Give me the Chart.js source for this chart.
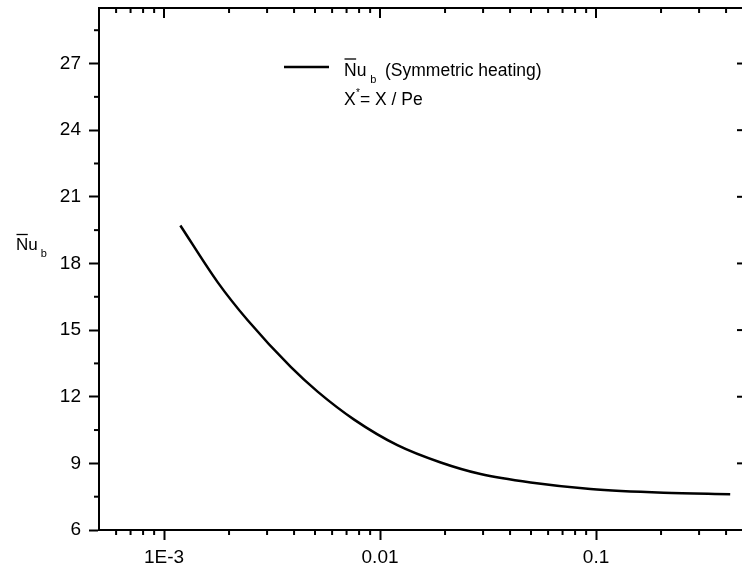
<!DOCTYPE html>
<html>
<head>
<meta charset="utf-8">
<script src="https://cdn.jsdelivr.net/npm/chart.js@4.4.1/dist/chart.umd.min.js"></script>
<style>
  html, body { margin: 0; padding: 0; background: #fff; overflow: hidden; }
  #wrap { width: 742px; height: 569px; overflow: hidden; }
</style>
</head>
<body>
<div id="wrap"><canvas id="chart" width="760" height="569"></canvas></div>
<script>
// data
const xStar = [0.00119, 0.00177, 0.00244, 0.00386, 0.00514, 0.00759, 0.01203, 0.0191, 0.0292, 0.0498, 0.0942, 0.2056, 0.418];
const nuB   = [19.71, 17.16, 15.44, 13.34, 12.23, 10.97, 9.82, 9.04, 8.52, 8.14, 7.85, 7.68, 7.61];

const xTicks = [0.001, 0.01, 0.1];
const xTickLabels = ['1E-3', '0.01', '0.1'];
const xMinorTicks = [6e-4, 7e-4, 8e-4, 9e-4, 0.002, 0.003, 0.004, 0.005, 0.006, 0.007, 0.008, 0.009,
                     0.02, 0.03, 0.04, 0.05, 0.06, 0.07, 0.08, 0.09, 0.2, 0.3, 0.4];
const yTicks = [6, 9, 12, 15, 18, 21, 24, 27];
const yMinorTicks = [7.5, 10.5, 13.5, 16.5, 19.5, 22.5, 25.5, 28.5];

const FONT = "'Liberation Sans', Arial, sans-serif";

// frame, minor ticks, legend and y title
const frame = {
  id: 'frame',
  afterDraw(chart) {
    const { ctx, chartArea: a, scales: { x, y } } = chart;
    ctx.save();
    ctx.strokeStyle = '#000';
    ctx.lineWidth = 2;
    ctx.strokeRect(a.left, a.top, a.right - a.left, a.bottom - a.top);

    const tick = (x1, y1, x2, y2) => {
      ctx.beginPath(); ctx.moveTo(x1, y1); ctx.lineTo(x2, y2); ctx.stroke();
    };
    xTicks.forEach(v => { const p = x.getPixelForValue(v); tick(p, a.top, p, a.top + 10); });
    xMinorTicks.forEach(v => {
      const p = x.getPixelForValue(v);
      tick(p, a.top, p, a.top + 5);
      tick(p, a.bottom, p, a.bottom + 5);
    });
    yTicks.forEach(v => { const p = y.getPixelForValue(v); tick(a.right, p, a.right - 10, p); });
    yMinorTicks.forEach(v => {
      const p = y.getPixelForValue(v);
      tick(a.left, p, a.left - 5, p);
      tick(a.right, p, a.right - 5, p);
    });

    // legend
    ctx.lineWidth = 2.5;
    tick(284, 67, 329, 67);
    ctx.fillStyle = '#000';
    ctx.textBaseline = 'alphabetic';
    ctx.font = '17.5px ' + FONT;
    ctx.fillText('Nu', 344, 76);
    const nW = ctx.measureText('N').width;
    const nuW = ctx.measureText('Nu').width;
    ctx.lineWidth = 1.3;
    tick(344.5, 59, 344 + nW - 0.5, 59);
    ctx.font = '11px ' + FONT;
    ctx.fillText('b', 344 + nuW + 4, 83);
    ctx.font = '17.5px ' + FONT;
    ctx.fillText('(Symmetric heating)', 385, 76);
    ctx.fillText('X', 344, 105);
    ctx.font = '10px ' + FONT;
    ctx.fillText('*', 356, 96);
    ctx.font = '17.5px ' + FONT;
    ctx.fillText('= X / Pe', 360, 105);

    // y axis title
    ctx.font = '17px ' + FONT;
    ctx.fillText('Nu', 16, 250);
    const tW = ctx.measureText('N').width;
    const tuW = ctx.measureText('Nu').width;
    tick(16.5, 234.5, 16 + tW - 0.5, 234.5);
    ctx.font = '11px ' + FONT;
    ctx.fillText('b', 16 + tuW + 3, 257);
    ctx.restore();
  }
};

new Chart(document.getElementById('chart'), {
  type: 'line',
  data: {
    datasets: [{
      data: xStar.map((v, i) => ({ x: v, y: nuB[i] })),
      borderColor: '#000',
      borderWidth: 2.5,
      pointRadius: 0,
      fill: false,
      cubicInterpolationMode: 'monotone'
    }]
  },
  options: {
    responsive: false,
    animation: false,
    layout: { padding: { top: 8, right: 13, left: 0, bottom: 0 } },
    plugins: { legend: { display: false }, tooltip: { enabled: false } },
    scales: {
      x: {
        type: 'logarithmic',
        min: 5e-4,
        max: 0.5,
        afterBuildTicks: s => { s.ticks = xTicks.map(v => ({ value: v })); },
        afterFit: s => { s.height = 39; s.paddingLeft = 0; s.paddingRight = 0; },
        ticks: {
          color: '#000',
          font: { family: FONT, size: 19 },
          padding: 6,
          maxRotation: 0,
          autoSkip: false,
          callback: (v, i) => xTickLabels[i]
        },
        grid: { drawOnChartArea: false, tickLength: 10, tickColor: '#000', tickWidth: 2 },
        border: { color: '#000', width: 2 }
      },
      y: {
        min: 6,
        max: 29.5,
        afterBuildTicks: s => { s.ticks = yTicks.map(v => ({ value: v })); },
        afterFit: s => { s.width = 99; s.paddingTop = 0; s.paddingBottom = 0; },
        ticks: {
          color: '#000',
          font: { family: FONT, size: 19 },
          padding: 8
        },
        grid: { drawOnChartArea: false, tickLength: 10, tickColor: '#000', tickWidth: 2 },
        border: { color: '#000', width: 2 }
      }
    }
  },
  plugins: [frame]
});
</script>
</body>
</html>
